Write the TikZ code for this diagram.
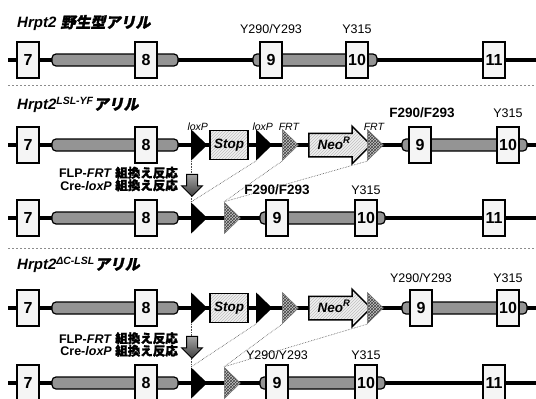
\documentclass[tikz,border=0pt]{standalone}
\usepackage{fontspec}
\setmainfont{Liberation Sans}
\newfontfamily\jpfont[FakeBold=1.6]{Noto Sans CJK JP}
\newfontfamily\jpslant[FakeSlant=0.2,FakeBold=1.6]{Noto Sans CJK JP}
\usetikzlibrary{positioning,shapes.geometric,shapes.arrows,patterns,shadows}
\tikzset{
  bb/.style     = {line width=3.5pt},
  exon/.style   = {draw, line width=1.8pt, fill=black!4, minimum width=22pt,
                   minimum height=36pt, inner sep=0pt,
                   font=\bfseries\fontsize{16}{16}\selectfont,
                   drop shadow={opacity=0.25, shadow xshift=1.2pt, shadow yshift=-1.2pt}},
  utr/.style    = {draw, line width=1.2pt, fill=black!42, rounded corners=4pt,
                   minimum height=12pt, inner sep=0pt},
  loxp/.style   = {isosceles triangle, isosceles triangle stretches, fill=black,
                   minimum width=31pt, minimum height=16pt, inner sep=0pt},
  frt/.style    = {loxp, draw=black!55, line width=0.6pt, preaction={fill=black!22},
                   pattern=crosshatch, pattern color=black!75},
  stopbox/.style= {draw, line width=1.5pt, preaction={fill=black!6},
                   pattern=north east lines, pattern color=black!25,
                   minimum width=38pt, minimum height=29pt, inner sep=0pt,
                   font=\bfseries\itshape\fontsize{13.5}{13.5}\selectfont},
  neo/.style    = {single arrow, draw, line width=1.5pt, preaction={fill=black!6},
                   pattern=north east lines, pattern color=black!25,
                   single arrow head extend=7pt, single arrow tip angle=90,
                   minimum height=62pt, inner xsep=2pt, inner ysep=5pt,
                   text height=10pt, text depth=2pt,
                   font=\bfseries\itshape\fontsize{13.5}{13.5}\selectfont},
  cre/.style    = {single arrow, shape border rotate=270, draw, line width=1pt,
                   top color=black!35, bottom color=black!75,
                   single arrow head extend=5pt, minimum height=22pt, inner sep=5pt},
  ttl/.style    = {anchor=west, inner sep=0pt, font=\bfseries\itshape\fontsize{15}{15}\selectfont},
  lab/.style    = {inner sep=1pt, font=\fontsize{12.5}{13}\selectfont},
  blab/.style   = {inner sep=1pt, font=\bfseries\fontsize{13.5}{14}\selectfont},
  site/.style   = {inner sep=1pt, font=\itshape\fontsize{10.5}{10.5}\selectfont},
  rxn/.style    = {anchor=east, align=right, inner sep=0pt,
                   font=\bfseries\fontsize{12.5}{12.5}\selectfont},
  sep/.style    = {black!45, line width=0.6pt, dash pattern=on 2pt off 2pt},
  swap/.style   = {densely dotted, black!70, line width=0.6pt}
}

\begin{document}
\begin{tikzpicture}[x=1pt,y=-1pt]
  \useasboundingbox (0,0) rectangle (536,399);
  % ---- separators ----
  \draw[sep] (8,85) -- (536,85);
  \draw[sep] (8,248) -- (536,248);
  % ---- backbone, exon 7 and 8 in every row ----
  \foreach \r/\y in {a/60,b/145,c/218,d/308,e/383}{
    \coordinate (s\r) at (8,\y);
    \coordinate (t\r) at (540,\y);
    \draw[bb] (s\r) -- (t\r);
    \node[utr, minimum width=126pt] (u\r) at (115,\y) {};
    \node[exon] (x7\r) at (28,\y) {7};
    \node[exon] (x8\r) at (146,\y) {8};
  }
  % ---- row a: wild type ----
  \node[ttl] (ta) at (17,23) {Hrpt2 {\jpslant 野生型アリル}};
  \node[utr, minimum width=124pt] (va) at (315,60) {};
  \node[exon] (x9a) at (271,60) {9};
  \node[exon] (x10a) at (357,60) {10};
  \node[exon] (x11a) at (494,60) {11};
  \node[lab] (ya) at (271,29) {Y290/Y293};
  \node[lab] (za) at (357,29) {Y315};
  % ---- row b: LSL-YF ----
  \node[ttl] (tb) at (17,105) {Hrpt2\textsuperscript{LSL-YF}{\jpslant アリル}};
  \node[loxp, anchor=lower side] (lb1) at (191,145) {};
  \node[stopbox] (sb) at (229,145) {Stop};
  \node[loxp, anchor=lower side] (lb2) at (256,145) {};
  \node[frt, anchor=lower side] (fb1) at (282,145) {};
  \node[neo] (nb) at (334,145) {Neo\textsuperscript{R}};
  \node[frt, anchor=lower side] (fb2) at (367,145) {};
  \node[utr, minimum width=125pt] (vb) at (464.5,145) {};
  \node[exon] (x9b) at (420,145) {9};
  \node[exon] (x10b) at (508,145) {10};
  \node[site, above=4pt of lb1] (kb1) {loxP};
  \node[site, above=4pt of lb2] (kb2) {loxP};
  \node[site, above=4pt of fb1] (kb3) {FRT};
  \node[site, above=4pt of fb2] (kb4) {FRT};
  \node[blab] (yb) at (422,113) {F290/F293};
  \node[lab] (zb) at (508,113) {Y315};
  % ---- row c: after recombination ----
  \node[loxp, anchor=lower side] (lc) at (191,218) {};
  \node[frt, anchor=lower side] (fc) at (224,218) {};
  \node[utr, minimum width=125pt] (vc) at (322.5,218) {};
  \node[exon] (x9c) at (277,218) {9};
  \node[exon] (x10c) at (366,218) {10};
  \node[exon] (x11c) at (494,218) {11};
  \node[blab] (yc) at (277,190) {F290/F293};
  \node[lab] (zc) at (366,190) {Y315};
  \draw[swap] (lb1.right corner) -- (lc.left corner);
  \draw[swap] (lb2.right corner) -- (lc.left corner);
  \draw[swap] (fb1.right corner) -- (fc.left corner);
  \draw[swap] (fb2.right corner) -- (fc.left corner);
  \node[rxn] (rc) at (178,179) {FLP-\textit{FRT} {\jpfont 組換え反応}\\Cre-\textit{loxP} {\jpfont 組換え反応}};
  \node[cre] (ac) at (192,182.5) {};
  % ---- row d: dC-LSL ----
  \node[ttl] (td) at (17,265) {Hrpt2\textsuperscript{ΔC-LSL}{\jpslant アリル}};
  \node[loxp, anchor=lower side] (ld1) at (191,308) {};
  \node[stopbox] (sd) at (229,308) {Stop};
  \node[loxp, anchor=lower side] (ld2) at (256,308) {};
  \node[frt, anchor=lower side] (fd1) at (282,308) {};
  \node[neo] (nd) at (334,308) {Neo\textsuperscript{R}};
  \node[frt, anchor=lower side] (fd2) at (367,308) {};
  \node[utr, minimum width=125pt] (vd) at (464.5,308) {};
  \node[exon] (x9d) at (421,308) {9};
  \node[exon] (x10d) at (508,308) {10};
  \node[lab] (yd) at (421,278) {Y290/Y293};
  \node[lab] (zd) at (508,278) {Y315};
  % ---- row e: after recombination ----
  \node[loxp, anchor=lower side] (le) at (191,383) {};
  \node[frt, anchor=lower side] (fe) at (224,383) {};
  \node[utr, minimum width=125pt] (ve) at (322.5,383) {};
  \node[exon] (x9e) at (277,383) {9};
  \node[exon] (x10e) at (366,383) {10};
  \node[exon] (x11e) at (494,383) {11};
  \node[lab] (ye) at (277,355) {Y290/Y293};
  \node[lab] (ze) at (366,355) {Y315};
  \draw[swap] (ld1.right corner) -- (le.left corner);
  \draw[swap] (ld2.right corner) -- (le.left corner);
  \draw[swap] (fd1.right corner) -- (fe.left corner);
  \draw[swap] (fd2.right corner) -- (fe.left corner);
  \node[rxn] (re) at (178,344.5) {FLP-\textit{FRT} {\jpfont 組換え反応}\\Cre-\textit{loxP} {\jpfont 組換え反応}};
  \node[cre] (ae) at (192,344.5) {};
\end{tikzpicture}
\end{document}
